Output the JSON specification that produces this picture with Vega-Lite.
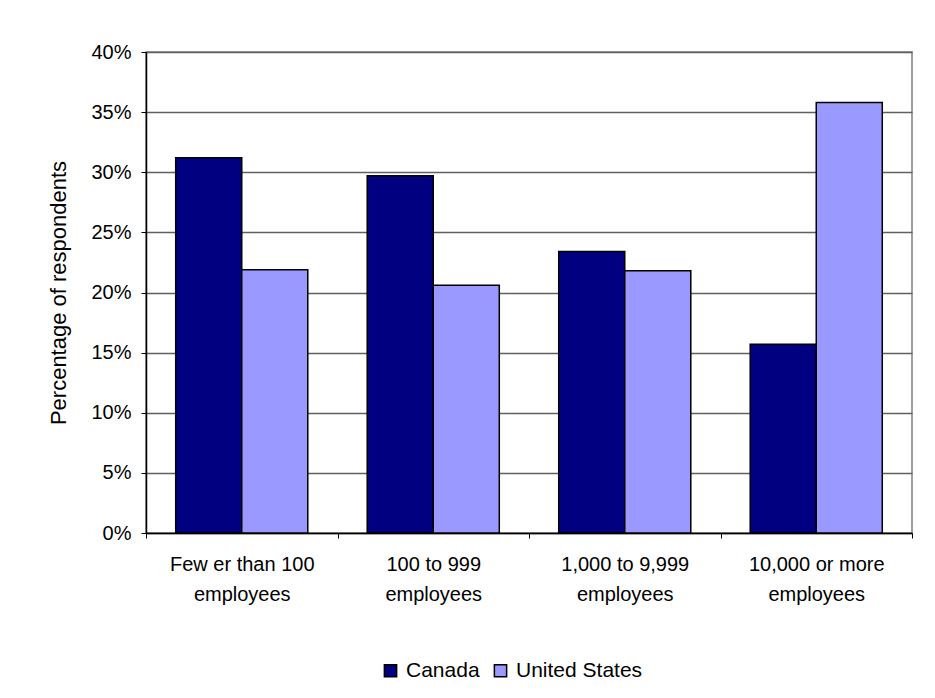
{
  "$schema": "https://vega.github.io/schema/vega-lite/v6.json",
  "autosize": "none",
  "width": 766,
  "height": 481,
  "padding": {"left": 146, "top": 52, "right": 23, "bottom": 165},
  "background": "white",
  "config": {
    "font": "Liberation Sans",
    "view": {"stroke": "#808080", "strokeWidth": 1.5}
  },
  "data": {
    "values": [
      {"size": "Few er than 100 employees", "country": "Canada", "pct": 31.2},
      {"size": "Few er than 100 employees", "country": "United States", "pct": 21.9},
      {"size": "100 to 999 employees", "country": "Canada", "pct": 29.7},
      {"size": "100 to 999 employees", "country": "United States", "pct": 20.6},
      {"size": "1,000 to 9,999 employees", "country": "Canada", "pct": 23.4},
      {"size": "1,000 to 9,999 employees", "country": "United States", "pct": 21.8},
      {"size": "10,000 or more employees", "country": "Canada", "pct": 15.7},
      {"size": "10,000 or more employees", "country": "United States", "pct": 35.8}
    ]
  },
  "mark": {"type": "bar", "stroke": "black", "strokeWidth": 1.5},
  "encoding": {
    "x": {
      "field": "size",
      "type": "nominal",
      "sort": null,
      "scale": {"paddingInner": 0, "paddingOuter": 0},
      "axis": {
        "title": null,
        "labelAngle": 0,
        "labelExpr": "isValid(datum.value) ? [replace(datum.value, ' employees', ''), 'employees'] : ''",
        "labelFontSize": 20,
        "labelLineHeight": 30,
        "labelColor": "black",
        "labelPadding": 16,
        "tickBand": "extent",
        "tickSize": 5,
        "tickColor": "black",
        "domainColor": "black",
        "domainWidth": 1.5,
        "grid": false
      }
    },
    "xOffset": {
      "field": "country",
      "type": "nominal",
      "scale": {"paddingInner": 0, "paddingOuter": 0.45}
    },
    "y": {
      "field": "pct",
      "type": "quantitative",
      "scale": {"domain": [0, 40], "nice": false},
      "axis": {
        "title": "Percentage of respondents",
        "titleFontSize": 22,
        "titleFontWeight": "normal",
        "titleColor": "black",
        "titlePadding": 20,
        "values": [0, 5, 10, 15, 20, 25, 30, 35, 40],
        "labelExpr": "datum.value + '%'",
        "labelFontSize": 20,
        "labelColor": "black",
        "labelPadding": 10,
        "tickSize": 5,
        "tickColor": "black",
        "domainColor": "black",
        "domainWidth": 1.5,
        "grid": true,
        "gridColor": "#606060",
        "gridWidth": 1.5
      }
    },
    "color": {
      "field": "country",
      "type": "nominal",
      "scale": {"domain": ["Canada", "United States"], "range": ["#000080", "#9999FF"]},
      "legend": {
        "title": null,
        "orient": "none",
        "direction": "horizontal",
        "legendX": 234,
        "legendY": 608,
        "padding": 0,
        "symbolType": "square",
        "symbolSize": 150,
        "symbolStrokeColor": "black",
        "symbolStrokeWidth": 1.5,
        "symbolOpacity": 1,
        "labelFontSize": 21,
        "labelColor": "black",
        "labelOffset": 5,
        "columnPadding": 10
      }
    }
  }
}
